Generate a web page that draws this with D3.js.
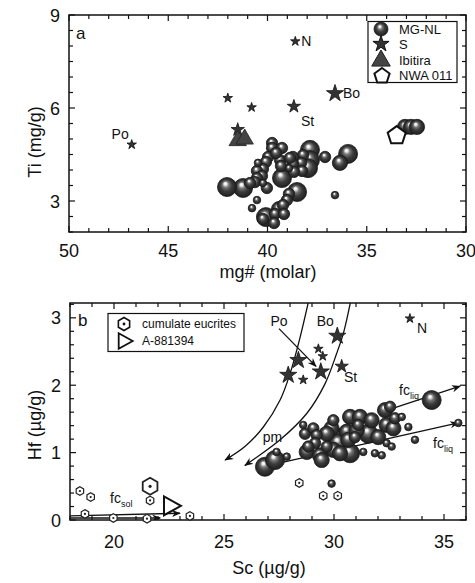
<!DOCTYPE html>
<html><head><meta charset="utf-8">
<script src="https://cdn.jsdelivr.net/npm/d3@7"></script>
<style>
body{margin:0;background:#fff}
svg{display:block}
text{font-family:"Liberation Sans",Arial,Helvetica,sans-serif;fill:#111}
</style>
</head><body>
<svg id="chart" width="475" height="583"></svg>
<script>
// ---------- Panel a: Ti vs mg# ----------
const aXTicks = [50, 45, 40, 35, 30];
const aYTicks = [3, 6, 9];
// [mg#, Ti, size class]
const aMGNL = [[33.07,5.39,3],[32.77,5.39,3],[32.47,5.39,3],[35.94,4.52,4],[36.35,4.23,3],[36.6,3.19,1],[37.1,4.42,2],[37.86,4.65,4],[37.86,4.32,4],[37.96,4.06,4],[38.21,4.48,2],[38.31,4.23,2],[38.26,3.97,2],[38.72,4.42,2],[38.72,4.19,2],[38.92,4.06,1],[38.51,3.29,4],[38.92,3.23,2],[39.02,3.03,2],[39.22,2.87,2],[39.42,2.74,3],[39.62,2.58,2],[39.17,2.58,2],[40.08,2.48,4],[40.23,2.42,2],[39.67,2.29,2],[39.27,3.74,4],[39.77,4.87,2],[39.77,4.71,2],[39.27,4.71,2],[39.97,4.42,2],[40.08,4.26,2],[39.37,4.32,2],[39.32,4.13,2],[40.23,4.03,2],[40.48,4.23,1],[40.53,3.97,2],[40.28,3.81,2],[40.53,3.74,2],[40.63,3.61,2],[40.23,3.58,1],[41.23,3.42,4],[42.04,3.45,4],[40.53,3.03,1],[40.78,2.77,1],[38.87,4.39,2],[39.57,4.55,2],[40.88,3.58,2],[38.67,3.94,2],[40.03,3.42,2]];
const aStars = [[38.6,8.15,1],[42.0,6.32,1],[40.8,6.02,1],[38.67,6.05,2],[36.6,6.47,3],[46.84,4.82,1],[41.5,5.3,2]];
const aIbitira = [[41.5,4.97],[41.15,5.02]];
const aNWA011 = [[33.49,5.11]];
const aLabels = [["N",38.6,8.15],["Bo",36.6,6.47],["St",38.67,6.05],["Po",46.84,4.82]];
const aLegend = ["MG-NL","S","Ibitira","NWA 011"];

// ---------- Panel b: Hf vs Sc ----------
const bXTicks = [20, 25, 30, 35];
const bYTicks = [0, 1, 2, 3];
const bMGNL = [[26.86,0.79,4],[27.32,0.89,4],[27.39,1.01,1],[27.85,0.94,1],[28.6,1.41,1],[28.68,1.28,2],[29.06,1.36,2],[29.21,1.26,2],[29.14,1.14,2],[28.83,1.09,2],[28.76,1.01,3],[29.36,0.96,3],[29.44,0.89,3],[29.97,1.48,2],[29.89,1.36,3],[29.67,1.28,3],[30.05,1.23,4],[30.2,1.14,4],[29.97,1.04,3],[29.67,1.09,2],[30.58,1.31,3],[30.65,1.19,3],[30.73,0.99,4],[30.27,0.99,3],[30.73,1.53,3],[31.18,1.53,3],[31.1,1.41,2],[30.95,1.23,2],[31.33,1.01,1],[31.71,1.48,3],[31.56,1.28,4],[32.01,1.23,3],[31.86,0.99,1],[32.17,0.96,1],[32.39,1.41,3],[32.32,1.63,3],[32.55,1.68,2],[32.77,1.51,2],[32.7,1.36,3],[33.08,1.53,1],[33.38,1.38,1],[32.39,1.14,1],[32.62,1.09,1],[33.68,1.19,1],[34.44,1.78,4],[35.65,1.44,1],[29.89,0.54,1],[31.03,1.33,3]];
const bStars = [[27.92,2.15,3],[28.38,2.37,3],[28.6,2.08,1],[29.4,2.2,3],[29.29,2.54,1],[29.49,2.43,1],[30.15,2.73,3],[30.35,2.28,2],[33.45,2.99,1]];
const bCumulate = [[18.45,0.43,1],[18.94,0.34,1],[18.68,0.09,1],[19.97,0.03,1],[21.64,0.29,1],[21.64,0.5,3],[23.45,0.06,1],[28.42,0.55,1],[29.51,0.36,1],[30.17,0.36,1],[21.5,0.02,1]];
const bA881394 = [[22.62,0.21]];
const bCurveLeft = [[28.95,3.4],[28.45,2.7],[28.0,2.17],[27.55,1.78],[26.79,1.38],[25.95,1.09],[25.05,0.89]];
const bCurveRight = [[30.85,3.4],[30.45,2.8],[30.12,2.47],[29.59,2.02],[28.76,1.58],[27.55,1.19],[25.95,0.81]];
const bPoArrow = [[27.5,2.84],[29.18,2.28]];
const bFcLiqUpper = [[32.6,1.65],[35.73,1.985]];
const bFcLiqLower = [[27.7,0.86],[35.65,1.44]];
const bFcSol1 = [[18.0,0.03],[22.1,0.03]];
const bFcSol2 = [[18.0,0.06],[23.0,0.1]];
const bLabels = [["Po",27.5,2.88],["Bo",29.6,2.88],["St",30.45,2.05],["N",33.77,2.78],["pm",27.2,1.16]];
const bLegend = ["cumulate eucrites","A-881394"];

// ---------- drawing ----------
const svg = d3.select("#chart");
const defs = svg.append("defs");
const grad = defs.append("radialGradient").attr("id","ball")
  .attr("cx","50%").attr("cy","50%").attr("r","52%").attr("fx","40%").attr("fy","30%");
grad.append("stop").attr("offset","0%").attr("stop-color","#ffffff");
grad.append("stop").attr("offset","13%").attr("stop-color","#eeeeee");
grad.append("stop").attr("offset","32%").attr("stop-color","#787878");
grad.append("stop").attr("offset","58%").attr("stop-color","#3c3c3c");
grad.append("stop").attr("offset","100%").attr("stop-color","#1c1c1c");
defs.append("marker").attr("id","arr").attr("viewBox","0 0 10 10").attr("refX",9).attr("refY",5)
  .attr("markerWidth",9).attr("markerHeight",9).attr("markerUnits","userSpaceOnUse").attr("orient","auto")
  .append("path").attr("d","M0,1 L10,5 L0,9 L3,5 Z").attr("fill","#111");

const ballR = d3.scaleLinear().domain([1,4]).range([3.8,9.5]);
const starR = d3.scaleLinear().domain([1,3]).range([5,9]);
const starPath = R => d3.symbol(d3.symbolStar, R*R/0.8908130915).call();
function polyPath(n, r, rot){
  const p = d3.path();
  for(let i=0;i<n;i++){const a=rot+i*2*Math.PI/n; const x=r*Math.cos(a), y=r*Math.sin(a); i?p.lineTo(x,y):p.moveTo(x,y);}
  p.closePath(); return p.toString();
}
const pentagon = r => polyPath(5, r, -Math.PI/2);
const hexagon = r => polyPath(6, r, -Math.PI/2);
const triUp = s => `M0,${-s*0.62}L${s*0.58},${s*0.38}L${-s*0.58},${s*0.38}Z`;
const triRight = s => `M${s*0.55},0L${-s*0.45},${-s*0.55}L${-s*0.45},${s*0.55}Z`;

function frame(g, x, y, xMinor, yMinor, xMajor, yMajor){
  const [x0,x1]=x.range(), [y1,y0]=y.range();
  const ticks = g.append("g").attr("stroke","#111").attr("stroke-width",1.2);
  xMinor.forEach(v=>{const px=x(v); const L=xMajor.includes(v)?6:4;
    ticks.append("line").attr("x1",px).attr("x2",px).attr("y1",y1).attr("y2",y1-L);
    ticks.append("line").attr("x1",px).attr("x2",px).attr("y1",y0).attr("y2",y0+L);});
  yMinor.forEach(v=>{const py=y(v); const L=yMajor.some(m=>Math.abs(m-v)<1e-6)?6:4;
    ticks.append("line").attr("x1",x0).attr("x2",x0+L).attr("y1",py).attr("y2",py);
    ticks.append("line").attr("x1",x1).attr("x2",x1-L).attr("y1",py).attr("y2",py);});
  g.append("rect").attr("x",x0).attr("y",y0).attr("width",x1-x0).attr("height",y1-y0)
    .attr("fill","none").attr("stroke","#111").attr("stroke-width",1.5);
}
function balls(g, data, x, y){
  const sorted = data.slice().sort((a,b)=>b[2]-a[2]);
  g.selectAll(null).data(sorted).join("circle")
    .attr("cx",d=>x(d[0])).attr("cy",d=>y(d[1])).attr("r",d=>ballR(d[2]))
    .attr("fill","url(#ball)").attr("stroke","#1a1a1a").attr("stroke-width",0.8);
}
function stars(g, data, x, y){
  g.selectAll(null).data(data).join("path")
    .attr("transform",d=>`translate(${x(d[0])},${y(d[1])})`)
    .attr("d",d=>starPath(starR(d[2]))).attr("fill","#333").attr("stroke","#111").attr("stroke-width",0.8);
}

// ===== Panel a =====
const xa = d3.scaleLinear().domain([50,30]).range([69,466]);
const ya = d3.scaleLinear().domain([2,9]).range([232,15]);
const ga = svg.append("g");
frame(ga, xa, ya, d3.range(30,51,1), d3.range(2,9.01,0.5), aXTicks, aYTicks);
ga.selectAll(null).data(aXTicks).join("text").attr("x",d=>xa(d)).attr("y",257)
  .attr("text-anchor","middle").attr("font-size",18).text(d=>d);
ga.selectAll(null).data(aYTicks).join("text").attr("x",60).attr("y",d=>ya(d)+6.5)
  .attr("text-anchor","end").attr("font-size",18).text(d=>d);
ga.append("text").attr("x",268).attr("y",278).attr("text-anchor","middle").attr("font-size",18).text("mg# (molar)");
ga.append("text").attr("transform","translate(41,142) rotate(-90)").attr("text-anchor","middle").attr("font-size",18).text("Ti (mg/g)");
ga.append("text").attr("x",76).attr("y",39).attr("font-size",17).text("a");

balls(ga, aMGNL, xa, ya);
ga.selectAll(null).data(aNWA011).join("path")
  .attr("transform",d=>`translate(${xa(d[0])},${ya(d[1])})`).attr("d",pentagon(9.5))
  .attr("fill","#fff").attr("stroke","#111").attr("stroke-width",2);
stars(ga, aStars, xa, ya);
ga.selectAll(null).data(aIbitira).join("path")
  .attr("transform",d=>`translate(${xa(d[0])},${ya(d[1])})`).attr("d",triUp(15))
  .attr("fill","#444").attr("stroke","#222").attr("stroke-width",0.8);
const aOff = {N:[6,5,"start"],Bo:[8,5,"start"],St:[7,20,"start"],Po:[-3,-6,"end"]};
ga.selectAll(null).data(aLabels).join("text")
  .attr("x",d=>xa(d[1])+aOff[d[0]][0]).attr("y",d=>ya(d[2])+aOff[d[0]][1])
  .attr("text-anchor",d=>aOff[d[0]][2]).attr("font-size",14).text(d=>d[0]);

// legend a
const la = ga.append("g");
la.append("rect").attr("x",368).attr("y",21.5).attr("width",89).attr("height",61)
  .attr("fill","#fff").attr("stroke","#111").attr("stroke-width",1.2);
const laY = [29,44,60,75];
la.append("circle").attr("cx",381).attr("cy",laY[0]).attr("r",7).attr("fill","url(#ball)").attr("stroke","#1a1a1a").attr("stroke-width",0.8);
la.append("path").attr("transform",`translate(381,${laY[1]})`).attr("d",starPath(8.5)).attr("fill","#333").attr("stroke","#111");
la.append("path").attr("transform",`translate(381,${laY[2]})`).attr("d",triUp(16)).attr("fill","#444").attr("stroke","#222");
la.append("path").attr("transform",`translate(382,${laY[3]+1})`).attr("d",pentagon(8)).attr("fill","#fff").attr("stroke","#111").attr("stroke-width",2);
la.selectAll(null).data(aLegend).join("text").attr("x",399).attr("y",(d,i)=>laY[i]+4.5)
  .attr("font-size",13).text(d=>d);

// ===== Panel b =====
const xb = d3.scaleLinear().domain([18,36]).range([70,466]);
const yb = d3.scaleLinear().domain([0,3.22]).range([520,303]);
const gb = svg.append("g");
frame(gb, xb, yb, d3.range(18,37,1), d3.range(0,3.21,0.2).map(v=>+v.toFixed(1)), bXTicks, bYTicks);
gb.selectAll(null).data(bXTicks).join("text").attr("x",d=>xb(d)).attr("y",548)
  .attr("text-anchor","middle").attr("font-size",18).text(d=>d);
gb.selectAll(null).data(bYTicks).join("text").attr("x",61).attr("y",d=>yb(d)+6.5)
  .attr("text-anchor","end").attr("font-size",18).text(d=>d);
gb.append("text").attr("x",269).attr("y",574).attr("text-anchor","middle").attr("font-size",18).text("Sc (µg/g)");
gb.append("text").attr("transform","translate(41,425) rotate(-90)").attr("text-anchor","middle").attr("font-size",18).text("Hf (µg/g)");
gb.append("text").attr("x",78).attr("y",326).attr("font-size",17).text("b");

defs.append("clipPath").attr("id","clipb").append("rect")
  .attr("x",70).attr("y",303).attr("width",396).attr("height",217);
const lineB = d3.line().x(d=>xb(d[0])).y(d=>yb(d[1]));
const curveB = d3.line().x(d=>xb(d[0])).y(d=>yb(d[1])).curve(d3.curveCatmullRom);
const lines = gb.append("g").attr("clip-path","url(#clipb)").attr("fill","none").attr("stroke","#111").attr("stroke-width",1.3);
[bCurveLeft,bCurveRight].forEach(c=>lines.append("path").attr("d",curveB(c)).attr("marker-end","url(#arr)"));
[bPoArrow,bFcLiqUpper,bFcLiqLower,bFcSol1,bFcSol2].forEach(c=>lines.append("path").attr("d",lineB(c)).attr("marker-end","url(#arr)"));

gb.selectAll(null).data(bCumulate).join("g")
  .attr("transform",d=>`translate(${xb(d[0])},${yb(d[1])})`)
  .each(function(d){const r=d[2]>1?8.5:4.3; const s=d3.select(this);
    s.append("path").attr("d",hexagon(r)).attr("fill","#fff").attr("stroke","#222").attr("stroke-width",d[2]>1?1.8:1.2);
    s.append("circle").attr("r",d[2]>1?1.6:1.1).attr("fill","#222");});
gb.selectAll(null).data(bA881394).join("path")
  .attr("transform",d=>`translate(${xb(d[0])},${yb(d[1])})`).attr("d",triRight(17))
  .attr("fill","#fff").attr("stroke","#111").attr("stroke-width",2);
balls(gb, bMGNL, xb, yb);
stars(gb, bStars, xb, yb);

const bOff = {Po:[0,0,"middle"],Bo:[0,0,"middle"],St:[0,0,"start"],N:[0,0,"start"],pm:[0,0,"middle"]};
gb.selectAll(null).data(bLabels).join("text")
  .attr("x",d=>xb(d[1])+bOff[d[0]][0]).attr("y",d=>yb(d[2])+bOff[d[0]][1])
  .attr("text-anchor",d=>bOff[d[0]][2]).attr("font-size",14).text(d=>d[0]);
function fcLabel(x, y, sub){
  const t = gb.append("text").attr("x",x).attr("y",y).attr("font-size",14).attr("fill","#111");
  t.append("tspan").attr("fill","#111").text("fc");
  t.append("tspan").attr("dy",4).attr("font-size",9).attr("fill","#111").text(sub);
}
fcLabel(399, 395, "liq");
fcLabel(433, 448, "liq");
fcLabel(110, 503, "sol");

// legend b
const lb = gb.append("g");
lb.append("rect").attr("x",108).attr("y",313.5).attr("width",136).attr("height",38)
  .attr("fill","#fff").attr("stroke","#111").attr("stroke-width",1.2);
lb.append("path").attr("transform","translate(124,324)").attr("d",hexagon(6.5)).attr("fill","#fff").attr("stroke","#111").attr("stroke-width",1.6);
lb.append("circle").attr("cx",124).attr("cy",324).attr("r",1.4).attr("fill","#111");
lb.append("path").attr("transform","translate(125,341)").attr("d",triRight(14)).attr("fill","#fff").attr("stroke","#111").attr("stroke-width",1.8);
lb.selectAll(null).data(bLegend).join("text").attr("x",142).attr("y",(d,i)=>[328,345][i])
  .attr("font-size",12).text(d=>d);
</script>
</body></html>
